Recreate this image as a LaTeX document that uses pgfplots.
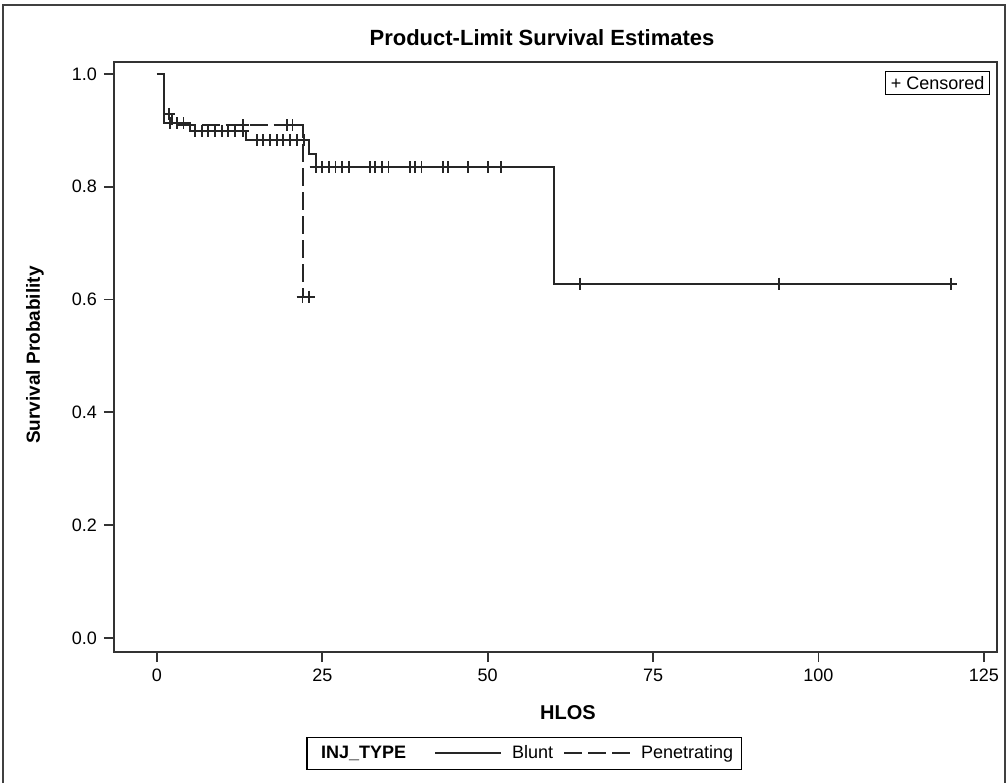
\documentclass[border=0pt]{standalone}
\usepackage{fontspec}
\setmainfont{Liberation Sans}
\usepackage{pgfplots}
\pgfplotsset{compat=1.18}

% step curves (time, survival) and censored times
\pgfplotstableread{
t s
0 1.000
1 0.912
5 0.899
13.5 0.882
23 0.858
24 0.835
60 0.628
120 0.628
}\blunt
\pgfplotstableread{
t s
0 1.000
1 0.929
2.3 0.909
22 0.605
23 0.605
}\penet
\pgfplotstableread{
t s
2 0.912
3 0.912
4 0.912
5.8 0.899
6.8 0.899
7.7 0.899
8.8 0.899
9.8 0.899
10.7 0.899
11.8 0.899
13 0.899
15.1 0.882
16 0.882
17.1 0.882
18.1 0.882
19 0.882
20.1 0.882
21.2 0.882
22.2 0.882
24 0.835
25 0.835
26 0.835
27 0.835
28 0.835
29 0.835
32.2 0.835
33 0.835
34 0.835
35 0.835
38.3 0.835
39 0.835
40 0.835
43.2 0.835
44 0.835
47 0.835
50 0.835
52 0.835
64 0.628
94 0.628
120 0.628
}\bluntcens
\pgfplotstableread{
t s
1.8 0.929
13 0.909
19.6 0.909
20.5 0.909
22 0.605
23 0.605
}\penetcens

\begin{document}
\begin{tikzpicture}
\useasboundingbox (-57pt,-65.5pt) rectangle (447pt,326pt);
\draw[line width=1pt, black!75] (-55.5pt,-65.5pt) -- (-55.5pt,323.5pt) -- (445.5pt,323.5pt) -- (445.5pt,-65.5pt);
\begin{axis}[
    at={(0,0)}, anchor=south west,
    width=441.5pt, height=295pt, scale only axis,
    xmin=-6.5, xmax=127, ymin=-0.025, ymax=1.021,
    xtick={0,25,50,75,100,125}, ytick={0,0.2,0.4,0.6,0.8,1},
    xtick pos=left, ytick pos=left, tick align=outside,
    major tick length=5pt,
    axis line style={line width=0.9pt, black!80},
    every tick/.style={line width=0.9pt, black!80},
    tick label style={font=\fontsize{9}{10}\selectfont},
    /pgf/number format/assume math mode=true,
    yticklabel style={/pgf/number format/.cd, fixed, fixed zerofill, precision=1},
    xticklabel style={/pgf/number format/fixed},
    scaled ticks=false,
    legend style={at={(0.4645,-0.172)}, anchor=center, legend columns=-1,
        draw=black, line width=0.6pt, font=\fontsize{9}{10}\selectfont,
        inner sep=2pt,
        /tikz/every even column/.append style={column sep=3pt},
        /tikz/every odd column/.append style={column sep=3pt}},
    legend image code/.code={\draw[#1] (0pt,0pt) -- (33pt,0pt);},
    clip=false,
]
\addlegendimage{empty legend}
\addlegendentry{\textbf{INJ\_TYPE}\hspace*{9pt}}
\addplot[const plot mark left, line width=1pt, black!85] table[x=t, y=s] {\blunt};
\addlegendentry{Blunt}
\addplot[const plot mark left, line width=1pt, black!85, dash pattern=on 9pt off 3pt] table[x=t, y=s] {\penet};
\addlegendentry{Penetrating}
\addplot[only marks, mark=+, mark size=3pt, line width=0.9pt, black!85, forget plot] table[x=t, y=s] {\bluntcens};
\addplot[only marks, mark=+, mark size=3pt, line width=0.9pt, black!85, forget plot] table[x=t, y=s] {\penetcens};
\node[draw=black, line width=0.6pt, anchor=north east, inner sep=2.5pt,
      font=\fontsize{9}{10}\selectfont]
      at (rel axis cs:1,1) [xshift=-3.5pt, yshift=-4.5pt] {+ Censored};
\end{axis}
\node[font=\bfseries\fontsize{11}{12}\selectfont] at (214pt,307pt) {Product-Limit Survival Estimates};
\node[font=\bfseries\fontsize{10}{12}\selectfont] at (227pt,-30.5pt) {HLOS};
\node[font=\bfseries\fontsize{9.5}{12}\selectfont, rotate=90] at (-39.5pt,148.5pt) {Survival Probability};
\end{tikzpicture}
\end{document}
